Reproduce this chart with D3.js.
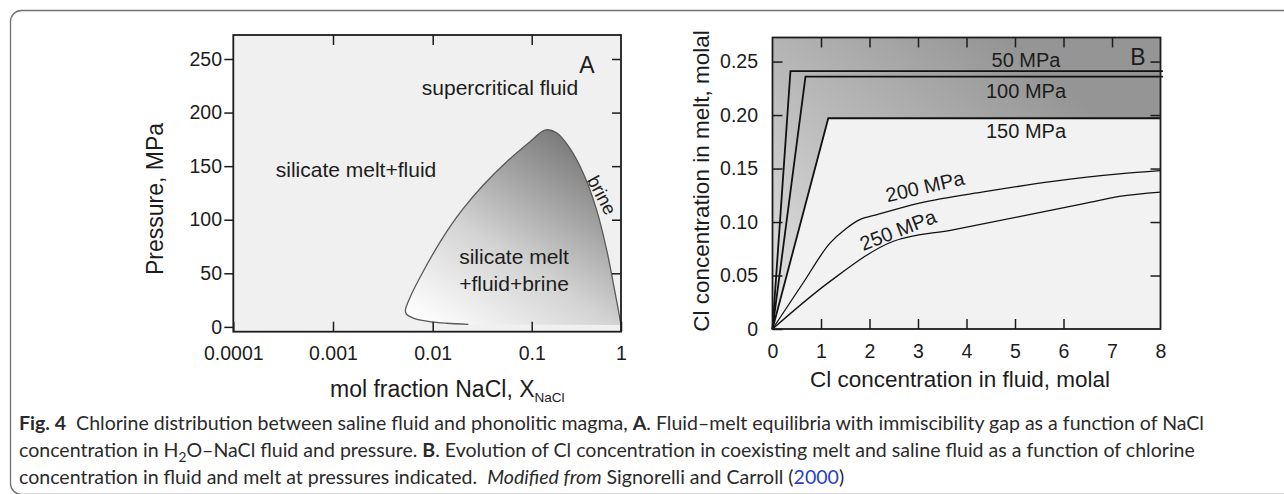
<!DOCTYPE html>
<html>
<head>
<meta charset="utf-8">
<script src="https://cdn.jsdelivr.net/npm/d3@7"></script>
<style>
  html, body { margin: 0; padding: 0; background: #ffffff; }
  svg { display: block; }
  .chart text { font-family: "Liberation Sans", Arial, Helvetica, sans-serif; fill: #1c1c1c; }
  .caption text { font-family: Lato, "Open Sans", sans-serif; fill: #2a2a2a; }
</style>
</head>
<body>
<svg id="fig" width="1284" height="494"></svg>
<script>
// ---------- Panel A: H2O–NaCl fluid / melt phase relations ----------
const xTicksA = [1e-4, 1e-3, 1e-2, 1e-1, 1];
const xTickLabelsA = ["0.0001", "0.001", "0.01", "0.1", "1"];
const pTicksA = [0, 50, 100, 150, 200, 250];

// boundary of the three-phase field (melt + fluid + brine),
// traced from the low-pressure tail, round the tip, over the crest down to X = 1
const gapX = [0.0229, 0.0138, 0.0094, 0.00646, 0.00545, 0.00532, 0.00597, 0.00752,
              0.01014, 0.01496, 0.0204, 0.0325, 0.0559, 0.0961, 0.141, 0.19,
              0.268, 0.378, 0.534, 0.692, 0.82, 0.933, 1.0];
const gapP = [2.4, 3.4, 4.9, 8.0, 12, 15.1, 28.2, 46.8,
              68.6, 93.5, 110.6, 132.4, 154.1, 172.8, 183.7, 181.2,
              166.6, 143.3, 109, 71.7, 40.7, 15.8, 1.8];

const fieldLabelsA = ["supercritical fluid", "silicate melt+fluid", "silicate melt", "+fluid+brine", "brine"];

// ---------- Panel B: Cl partitioning between melt and fluid ----------
const xTicksB = [0, 1, 2, 3, 4, 5, 6, 7, 8];
const yTicksB = [0, 0.05, 0.10, 0.15, 0.20, 0.25];
const pressureLabels = ["50 MPa", "100 MPa", "150 MPa", "200 MPa", "250 MPa"];

const fluid50  = [0, 0.37, 8.05];  const melt50  = [0, 0.241, 0.241];
const fluid100 = [0, 0.68, 8.05];  const melt100 = [0, 0.236, 0.236];
const fluid150 = [0, 1.15, 8.0];   const melt150 = [0, 0.197, 0.197];
const fluid200 = [0, 0.63, 1.18, 1.52, 1.79, 2.14, 3.03, 4.41, 5.78, 7.15, 8.0];
const melt200  = [0, 0.043, 0.080, 0.094, 0.102, 0.1067, 0.1177, 0.1286, 0.138, 0.145, 0.148];
const fluid250 = [0, 1.18, 2.48, 3.72, 5.09, 6.47, 7.15, 8.0];
const melt250  = [0, 0.0443, 0.0818, 0.0927, 0.105, 0.1177, 0.1239, 0.128];

const svg = d3.select("#fig");
const defs = svg.append("defs");

// caption box outline
svg.append("rect")
  .attr("x", 10.5).attr("y", 10.5).attr("width", 1400).attr("height", 484)
  .attr("rx", 11).attr("fill", "none").attr("stroke", "#707070").attr("stroke-width", 1.3);

const chart = svg.append("g").attr("class", "chart");
const zip = (xs, ys) => xs.map((x, i) => [x, ys[i]]);

function styleAxis(g) {
  g.select(".domain").remove();
  g.selectAll(".tick line").attr("stroke", "#1c1c1c").attr("stroke-width", 1.5);
  g.selectAll(".tick text").attr("font-size", 19.5).attr("fill", "#1c1c1c");
  g.attr("font-family", null);
}

// ===== Panel A =====
// the 0.1–1 decade is drawn narrower than the others
const xA = d3.scaleLog().domain(xTicksA).range([233.3, 333, 432.7, 531.7, 621]);
const yA = d3.scaleLinear().domain([-4.5, 272.4]).range([331.7, 35]);

const gA = chart.append("g");
gA.append("rect")
  .attr("x", xA.range()[0]).attr("y", yA.range()[1])
  .attr("width", xA(1) - xA(1e-4)).attr("height", yA.range()[0] - yA.range()[1])
  .attr("fill", "#f0f0f0");

const gradA = defs.append("linearGradient").attr("id", "gradA")
  .attr("gradientUnits", "userSpaceOnUse")
  .attr("x1", 420).attr("y1", 322).attr("x2", 548).attr("y2", 128);
gradA.append("stop").attr("offset", 0).attr("stop-color", "#ffffff");
gradA.append("stop").attr("offset", 0.45).attr("stop-color", "#d3d3d3");
gradA.append("stop").attr("offset", 1).attr("stop-color", "#7c7c7c");

const gapPts = zip(gapX, gapP);
const gapLine = d3.line().x(d => xA(d[0])).y(d => yA(d[1])).curve(d3.curveCatmullRom.alpha(0.5));
gA.append("path")
  .attr("d", gapLine(gapPts) + "Z")
  .attr("fill", "url(#gradA)");
gA.append("path")
  .attr("d", gapLine(gapPts))
  .attr("fill", "none").attr("stroke", "#595959").attr("stroke-width", 1.3);

// axes A
gA.append("g").attr("transform", `translate(${xA(1e-4)},0)`)
  .call(d3.axisLeft(yA).tickValues(pTicksA).tickSize(9).tickPadding(2.3).tickFormat(d3.format("d")))
  .call(styleAxis);
gA.append("g").attr("transform", `translate(${xA(1)},0)`)
  .call(d3.axisRight(yA).tickValues(pTicksA.slice(1)).tickSize(-9).tickFormat(""))
  .call(styleAxis);
gA.append("g").attr("transform", `translate(0,${yA.range()[1]})`)
  .call(d3.axisTop(xA).tickValues(xTicksA.slice(1, 4)).tickSize(-10).tickFormat(""))
  .call(styleAxis);
gA.append("g").attr("transform", `translate(0,${yA.range()[0]})`)
  .call(d3.axisBottom(xA).tickValues(xTicksA).tickSize(-10).tickPadding(14.5)
        .tickFormat((d, i) => xTickLabelsA[i]))
  .call(styleAxis);

gA.append("rect")
  .attr("x", xA(1e-4)).attr("y", yA.range()[1])
  .attr("width", xA(1) - xA(1e-4)).attr("height", yA.range()[0] - yA.range()[1])
  .attr("fill", "none").attr("stroke", "#1c1c1c").attr("stroke-width", 1.8);

// field labels A
const fsA = 21;
gA.append("text").attr("x", 500).attr("y", 88).attr("dy", "0.35em")
  .attr("text-anchor", "middle").attr("font-size", fsA).text(fieldLabelsA[0]);
gA.append("text").attr("x", 356).attr("y", 170).attr("dy", "0.35em")
  .attr("text-anchor", "middle").attr("font-size", fsA).text(fieldLabelsA[1]);
gA.append("text").attr("x", 514).attr("y", 256.5).attr("dy", "0.35em")
  .attr("text-anchor", "middle").attr("font-size", fsA).text(fieldLabelsA[2]);
gA.append("text").attr("x", 514).attr("y", 284).attr("dy", "0.35em")
  .attr("text-anchor", "middle").attr("font-size", fsA).text(fieldLabelsA[3]);
gA.append("text").attr("transform", "translate(602,195) rotate(62)").attr("dy", "0.35em")
  .attr("text-anchor", "middle").attr("font-size", 18.5).text(fieldLabelsA[4]);
gA.append("text").attr("x", 587).attr("y", 65).attr("dy", "0.36em")
  .attr("text-anchor", "middle").attr("font-size", 23).text("A");

// axis titles A
gA.append("text").attr("transform", "translate(155,199) rotate(-90)").attr("dy", "0.35em")
  .attr("text-anchor", "middle").attr("font-size", 23).text("Pressure, MPa");
const xtA = gA.append("text").attr("x", 330).attr("y", 397).attr("font-size", 23);
xtA.append("tspan").text("mol fraction NaCl, X");
xtA.append("tspan").attr("font-size", 13.5).attr("dy", 5).text("NaCl");

// ===== Panel B =====
const xB = d3.scaleLinear().domain([0, 8]).range([772.5, 1160.5]);
const yB = d3.scaleLinear().domain([0, 0.2725]).range([329, 37.5]);

const gB = chart.append("g");
const gradB = defs.append("linearGradient").attr("id", "gradB")
  .attr("gradientUnits", "userSpaceOnUse")
  .attr("x1", 773).attr("y1", 329).attr("x2", 1000).attr("y2", 38);
gradB.append("stop").attr("offset", 0).attr("stop-color", "#e6e6e6");
gradB.append("stop").attr("offset", 1).attr("stop-color", "#959595");

gB.append("rect")
  .attr("x", xB(0)).attr("y", yB(0.2725))
  .attr("width", xB(8) - xB(0)).attr("height", yB(0) - yB(0.2725))
  .attr("fill", "url(#gradB)");

// light field below the 150 MPa saturation line
const light150 = zip(fluid150, melt150).concat([[8, 0]]);
gB.append("path")
  .attr("d", d3.line().x(d => xB(d[0])).y(d => yB(d[1]))(light150) + "Z")
  .attr("fill", "#f2f2f2");

// axes B
gB.append("g").attr("transform", `translate(${xB(0)},0)`)
  .call(d3.axisLeft(yB).tickValues(yTicksB).tickSize(-10).tickPadding(14.5)
        .tickFormat(d => d === 0 ? "0" : d3.format(".2f")(d)))
  .call(styleAxis);
gB.append("g").attr("transform", `translate(${xB(8)},0)`)
  .call(d3.axisRight(yB).tickValues(yTicksB.slice(1)).tickSize(-10).tickFormat(""))
  .call(styleAxis);
gB.append("g").attr("transform", `translate(0,${yB(0.2725)})`)
  .call(d3.axisTop(xB).tickValues(xTicksB.slice(1, 8)).tickSize(-10).tickFormat(""))
  .call(styleAxis);
gB.append("g").attr("transform", `translate(0,${yB(0)})`)
  .call(d3.axisBottom(xB).tickValues(xTicksB.slice(1, 7)).tickSize(-10).tickFormat(""))
  .call(styleAxis);
gB.append("g").attr("transform", `translate(0,${yB(0)})`)
  .call(d3.axisBottom(xB).tickValues(xTicksB).tickSize(0).tickPadding(14.7).tickFormat(d3.format("d")))
  .call(styleAxis);

// pressure curves
const lineB = d3.line().x(d => xB(d[0])).y(d => yB(d[1]));
const lineBs = d3.line().x(d => xB(d[0])).y(d => yB(d[1])).curve(d3.curveMonotoneX);
[[fluid50, melt50], [fluid100, melt100], [fluid150, melt150]].forEach(([fx, my]) => {
  gB.append("path").attr("d", lineB(zip(fx, my)))
    .attr("fill", "none").attr("stroke", "#111").attr("stroke-width", 1.8)
    .attr("stroke-linejoin", "miter");
});
[[fluid200, melt200], [fluid250, melt250]].forEach(([fx, my]) => {
  gB.append("path").attr("d", lineBs(zip(fx, my)))
    .attr("fill", "none").attr("stroke", "#111").attr("stroke-width", 1.3);
});

gB.append("rect")
  .attr("x", xB(0)).attr("y", yB(0.2725))
  .attr("width", xB(8) - xB(0)).attr("height", yB(0) - yB(0.2725))
  .attr("fill", "none").attr("stroke", "#1c1c1c").attr("stroke-width", 1.8);

// pressure labels
const fsB = 20;
gB.append("text").attr("x", 1026).attr("y", 60).attr("dy", "0.35em")
  .attr("text-anchor", "middle").attr("font-size", fsB).text(pressureLabels[0]);
gB.append("text").attr("x", 1026).attr("y", 91).attr("dy", "0.35em")
  .attr("text-anchor", "middle").attr("font-size", fsB).text(pressureLabels[1]);
gB.append("text").attr("x", 1026).attr("y", 131).attr("dy", "0.35em")
  .attr("text-anchor", "middle").attr("font-size", fsB).text(pressureLabels[2]);
gB.append("text").attr("transform", "translate(925,186.5) rotate(-12.9)").attr("dy", "0.35em")
  .attr("text-anchor", "middle").attr("font-size", fsB).text(pressureLabels[3]);
gB.append("text").attr("transform", "translate(898,230) rotate(-21.4)").attr("dy", "0.35em")
  .attr("text-anchor", "middle").attr("font-size", fsB).text(pressureLabels[4]);
gB.append("text").attr("x", 1138).attr("y", 57).attr("dy", "0.36em")
  .attr("text-anchor", "middle").attr("font-size", 23).text("B");

// axis titles B
gB.append("text").attr("transform", "translate(701,181) rotate(-90)").attr("dy", "0.35em")
  .attr("text-anchor", "middle").attr("font-size", 22.5).text("Cl concentration in melt, molal");
gB.append("text").attr("x", 960).attr("y", 387)
  .attr("text-anchor", "middle").attr("font-size", 22.5).text("Cl concentration in fluid, molal");

// ===== Caption =====
const cap = svg.append("g").attr("class", "caption");
const capX = 19;
const l1 = cap.append("text").attr("x", capX).attr("y", 430);
l1.append("tspan").attr("font-weight", "bold").text("Fig. 4");
l1.append("tspan").text("\u00a0 Chlorine distribution between saline fluid and phonolitic magma, ");
l1.append("tspan").attr("font-weight", "bold").text("A");
l1.append("tspan").text(". Fluid\u2013melt equilibria with immiscibility gap as a function of NaCl");

const l2 = cap.append("text").attr("x", capX).attr("y", 457);
l2.append("tspan").text("concentration in H");
l2.append("tspan").attr("font-size", "70%").attr("dy", "0.35em").text("2");
l2.append("tspan").attr("dy", "-0.245em").text("O\u2013NaCl fluid and pressure. ");
l2.append("tspan").attr("font-weight", "bold").text("B");
l2.append("tspan").text(". Evolution of Cl concentration in coexisting melt and saline fluid as a function of chlorine");

const l3 = cap.append("text").attr("x", capX).attr("y", 484);
l3.append("tspan").text("concentration in fluid and melt at pressures indicated.\u00a0 ");
l3.append("tspan").attr("font-style", "italic").text("Modified from");
l3.append("tspan").text(" Signorelli and Carroll (");
l3.append("tspan").style("fill", "#2b3fc4").text("2000");
l3.append("tspan").text(")");

// size the caption font so the first two lines span the box width
cap.attr("font-size", 18);
const w1 = l1.node().getComputedTextLength();
const w2 = l2.node().getComputedTextLength();
cap.attr("font-size", 18 * ((1213 - capX) + (1187 - capX)) / (w1 + w2));
</script>
</body>
</html>
